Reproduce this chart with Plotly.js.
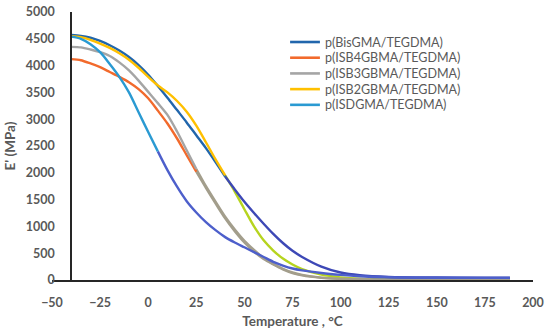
<!DOCTYPE html>
<html>
<head>
<meta charset="utf-8">
<script src="https://cdn.plot.ly/plotly-3.0.1.min.js"></script>
<style>html,body{margin:0;padding:0;background:#fff;}#chart{width:550px;height:336px;}</style>
</head>
<body>
<div id="chart"></div>
<script>
// Temperature (°C)
var temperature = [-40,-35,-30,-25,-20,-15,-10,-5,0,5,10,15,20,25,30,35,40,45,50,55,60,65,70,75,80,90,100,110,125,150,175,188];

// Storage modulus E' (MPa)
var bisGMA   = [4570,4555,4520,4460,4380,4280,4160,4010,3830,3620,3400,3170,2940,2700,2460,2200,1930,1690,1460,1250,1050,860,690,545,430,250,140,88,57,46,43,43];
var isb4GBMA = [4120,4100,4040,3970,3880,3790,3690,3560,3390,3160,2920,2640,2330,2020,1720,1430,1150,910,700,530,390,290,200,130,85,40,20,12,8,6,5,5];
var isb3GBMA = [4350,4340,4300,4250,4180,4060,3910,3720,3510,3300,3080,2770,2420,2070,1750,1460,1180,940,730,560,410,300,210,140,95,45,25,15,10,8,8,8];
var isb2GBMA = [4550,4530,4480,4410,4330,4230,4110,3960,3790,3630,3500,3340,3140,2880,2570,2250,1950,1650,1320,1000,740,550,400,290,205,100,50,25,15,10,10,10];
var isdGMA   = [4540,4500,4400,4250,4030,3790,3500,3130,2760,2400,2050,1740,1470,1260,1080,930,800,700,610,520,430,340,270,215,180,130,95,70,50,42,40,40];

var seriesNames = ["p(BisGMA/TEGDMA)","p(ISB4GBMA/TEGDMA)","p(ISB3GBMA/TEGDMA)","p(ISB2GBMA/TEGDMA)","p(ISDGMA/TEGDMA)"];
var seriesValues = [bisGMA, isb4GBMA, isb3GBMA, isb2GBMA, isdGMA];
var upperColors = ["#2166ac","#f26a2c","#a5a5a5","#ffc000","#2a9ad2"];
var lowerColors = ["#3d48b6","#a39e8c","#a39e8c","#b6d41f","#4d5fcb"];
var colorSplit = [2100, 2300, 2300, 2050, 2450];

var traces = [];
var lowerTraces = [];
for (var s = 0; s < seriesNames.length; s++) {
  var v = seriesValues[s];
  var k = v.length;
  for (var i = 0; i < v.length; i++) { if (v[i] < colorSplit[s]) { k = i; break; } }
  traces.push({
    x: temperature.slice(0, k + 1), y: v.slice(0, k + 1),
    name: seriesNames[s], type: "scatter", mode: "lines", showlegend: false,
    line: {color: upperColors[s], width: 2.4, shape: "spline", smoothing: 0.8}
  });
  lowerTraces.push({
    x: temperature.slice(k), y: v.slice(k),
    name: seriesNames[s], type: "scatter", mode: "lines", showlegend: false,
    line: {color: lowerColors[s], width: 2.4, shape: "spline", smoothing: 0.8}
  });
}
// order so gray covers orange in the low part
var data = [lowerTraces[1], lowerTraces[3], lowerTraces[2], lowerTraces[0], lowerTraces[4]].concat(traces);

// legend drawn as shapes + annotations (paper coords)
var legendX0 = 0.495, legendX1 = 0.557, legendTextX = 0.563, legendTopY = 0.888, legendStep = 0.0586;
var shapes = [], annotations = [];
for (var j = 0; j < seriesNames.length; j++) {
  var yy = legendTopY - j * legendStep;
  shapes.push({type: "line", xref: "paper", yref: "paper", x0: legendX0, x1: legendX1, y0: yy, y1: yy,
               line: {color: upperColors[j], width: 2.6}});
  annotations.push({xref: "paper", yref: "paper", x: legendTextX, y: yy, xanchor: "left", yanchor: "middle",
                    text: seriesNames[j], showarrow: false,
                    font: {family: "Lato, 'Open Sans', sans-serif", size: 12.5, color: "#595959"}});
}

var tickFont = {family: "Lato, 'Open Sans', sans-serif", size: 12.5, color: "#595959", weight: "bold"};
var layout = {
  width: 550, height: 336,
  margin: {l: 52, r: 17, t: 12, b: 56},
  paper_bgcolor: "#ffffff", plot_bgcolor: "#ffffff",
  showlegend: false,
  shapes: shapes,
  annotations: annotations,
  xaxis: {
    range: [-50, 200], tickvals: [-50,-25,0,25,50,75,100,125,150,175,200],
    showgrid: false, zeroline: false, showline: true, linecolor: "#262626", linewidth: 2,
    ticks: "", tickfont: tickFont, ticklabelstandoff: 10,
    title: {text: "Temperature , °C", font: {family: "Lato, 'Open Sans', sans-serif", size: 13.5, color: "#595959", weight: "bold"}, standoff: 8},
    anchor: "y", fixedrange: true
  },
  yaxis: {
    range: [0, 5000], tickvals: [0,500,1000,1500,2000,2500,3000,3500,4000,4500,5000],
    showgrid: false, zeroline: false, showline: true, linecolor: "#262626", linewidth: 2,
    ticks: "", tickfont: tickFont, ticklabelstandoff: 13,
    anchor: "free", position: 0.04,
    title: {text: "E' (MPa)", font: {family: "Lato, 'Open Sans', sans-serif", size: 13.5, color: "#595959", weight: "bold"}, standoff: 6},
    fixedrange: true
  }
};

Plotly.newPlot("chart", data, layout, {displayModeBar: false, staticPlot: true});
</script>
</body>
</html>
